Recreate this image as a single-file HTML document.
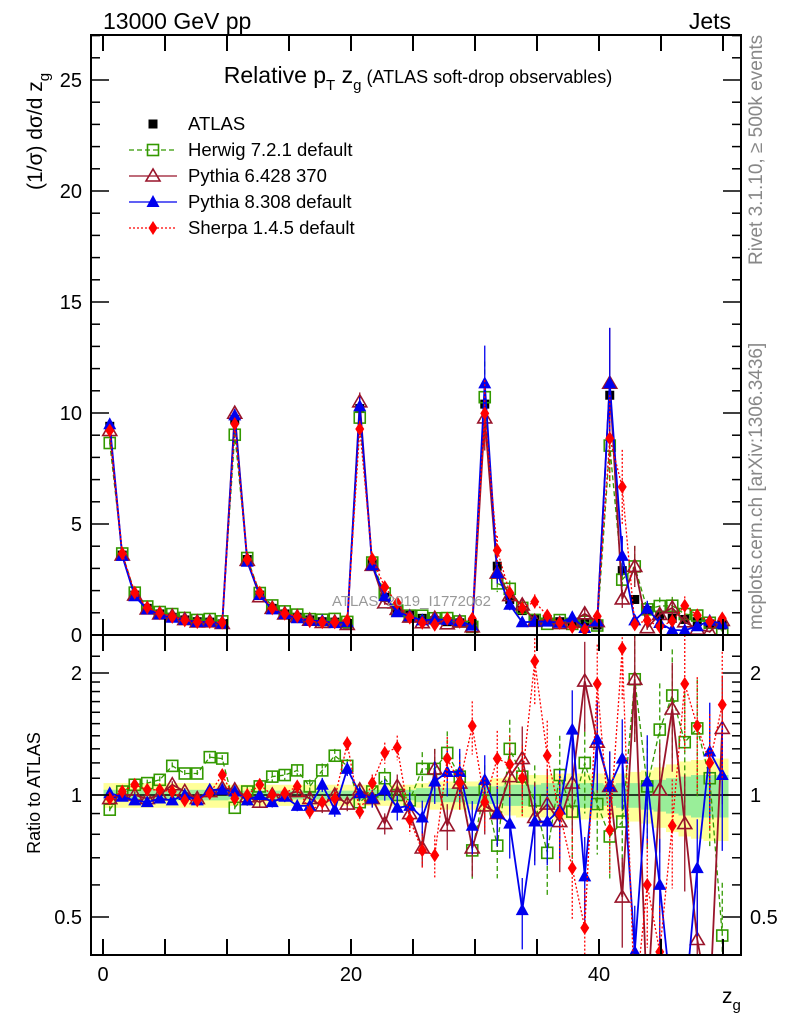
<!DOCTYPE html>
<html><head><meta charset="utf-8">
<style>
body{margin:0;background:#fff;}
svg{display:block;font-family:"Liberation Sans",sans-serif;}
</style></head>
<body>
<svg id="c" width="786" height="1024" viewBox="0 0 786 1024" xmlns="http://www.w3.org/2000/svg">
<defs>
<clipPath id="clipMain"><rect x="91" y="35" width="650" height="600"/></clipPath>
<clipPath id="clipRatio"><rect x="91" y="635" width="650" height="320"/></clipPath>
</defs>
<g id="bands" clip-path="url(#clipRatio)"></g>
<g id="ratioMarks" clip-path="url(#clipRatio)"></g>
<g id="mainMarks" clip-path="url(#clipMain)"></g>
<g id="axes"></g>
<text x="103" y="29" font-size="23">13000 GeV pp</text>
<text x="731" y="29" font-size="23" text-anchor="end">Jets</text>
<text x="418" y="83" font-size="23" text-anchor="middle">Relative p<tspan font-size="15" dy="7">T</tspan><tspan dy="-7"> z</tspan><tspan font-size="15" dy="7">g</tspan><tspan dy="-7" font-size="18"> (ATLAS soft-drop observables)</tspan></text>
<text transform="translate(42,190) rotate(-90)" font-size="21" text-anchor="start">(1/σ) dσ/d z<tspan font-size="15" dy="7">g</tspan></text>
<text transform="translate(40,793) rotate(-90)" font-size="18" text-anchor="middle">Ratio to ATLAS</text>
<text x="722" y="1003" font-size="21">z<tspan font-size="15" dy="7">g</tspan></text>
<text transform="translate(762,265) rotate(-90)" font-size="19" fill="#888">Rivet 3.1.10, ≥ 500k events</text>
<text transform="translate(762,630) rotate(-90)" font-size="19" fill="#888">mcplots.cern.ch [arXiv:1306.3436]</text>
<text x="332" y="606" font-size="15" fill="#999">ATLAS_2019_I1772062</text>
<g id="legend"></g>
</svg>
<script>
// ---- data ----
const binCenters = [0.5,1.5,2.5,3.5,4.5,5.5,6.5,7.5,8.5,9.5,10.5,11.5,12.5,13.5,14.5,15.5,16.5,17.5,18.5,19.5,20.5,21.5,22.5,23.5,24.5,25.5,26.5,27.5,28.5,29.5,30.5,31.5,32.5,33.5,34.5,35.5,36.5,37.5,38.5,39.5,40.5,41.5,42.5,43.5,44.5,45.5,46.5,47.5,48.5,49.5];
const atlasValues = [9.4,3.6,1.8,1.2,0.95,0.8,0.68,0.6,0.58,0.5, 9.7,3.4,1.8,1.2,0.95,0.8,0.68,0.6,0.58,0.5, 10.2,3.2,1.7,1.1,0.9,0.75,0.65,0.6,0.55,0.5, 10.4,3.1,1.6,1.1,0.7,0.7,0.6,0.55,0.5,0.45, 10.8,2.9,1.6,1.1,0.9,0.75,0.7,0.6,0.5,0.45];
const atlasTotErr = [0.07,0.07,0.07,0.07,0.07,0.07,0.07,0.07,0.07,0.07, 0.06,0.06,0.06,0.06,0.06,0.06,0.06,0.06,0.06,0.06, 0.06,0.06,0.06,0.06,0.06,0.07,0.08,0.08,0.08,0.08, 0.09,0.10,0.11,0.12,0.12,0.12,0.13,0.13,0.13,0.13, 0.12,0.13,0.14,0.15,0.17,0.19,0.21,0.22,0.23,0.23];
const atlasStatErr = [0.03,0.03,0.03,0.03,0.03,0.03,0.03,0.03,0.03,0.03, 0.025,0.025,0.025,0.025,0.025,0.025,0.025,0.025,0.025,0.025, 0.025,0.03,0.03,0.03,0.03,0.04,0.04,0.04,0.04,0.05, 0.05,0.05,0.06,0.06,0.06,0.07,0.07,0.07,0.07,0.07, 0.06,0.07,0.07,0.08,0.09,0.10,0.11,0.12,0.12,0.12];
const mcRelErr = [0.02,0.02,0.02,0.02,0.02,0.02,0.02,0.02,0.02,0.02, 0.02,0.03,0.03,0.03,0.03,0.03,0.04,0.04,0.04,0.04, 0.04,0.05,0.06,0.07,0.08,0.1,0.12,0.13,0.14,0.15, 0.15,0.17,0.18,0.2,0.22,0.22,0.25,0.25,0.25,0.25, 0.22,0.25,0.3,0.3,0.3,0.3,0.32,0.32,0.32,0.35];
const herwigRatio = [0.92,1.02,1.06,1.07,1.09,1.18,1.13,1.13,1.24,1.23, 0.93,1.02,1.05,1.11,1.12,1.15,1.05,1.15,1.25,1.18, 0.96,1.02,1.1,1.0,0.97,1.16,1.16,1.27,1.11,0.73, 1.03,0.75,1.3,1.11,0.97,0.72,1.12,0.91,1.2,0.95, 0.79,0.86,1.93,1.05,1.45,1.76,1.35,1.46,1.1,0.45];
const pythia6Ratio = [0.98,1.0,1.0,0.98,1.0,1.06,1.02,0.98,1.02,1.04, 1.03,0.99,0.96,1.0,1.0,1.02,0.98,0.94,1.0,0.95, 1.03,0.98,0.85,1.05,0.9,0.74,1.16,0.84,1.07,0.74, 0.94,0.9,1.11,1.23,0.88,0.95,0.86,1.07,1.91,1.35, 1.05,0.56,1.93,0.3,1.03,1.63,0.85,0.44,0.3,1.46];
const pythia8Ratio = [1.01,0.99,0.97,0.96,0.98,0.97,1.0,0.97,1.03,1.03, 1.02,0.97,1.0,0.96,0.99,0.94,0.94,1.06,0.92,1.16, 1.01,0.98,1.03,0.93,0.94,0.88,1.08,1.14,1.14,0.84, 1.09,0.9,0.85,0.52,0.86,0.86,0.92,1.45,0.63,1.37, 1.05,1.23,0.41,1.08,0.6,0.3,0.3,0.66,1.28,1.12];
const sherpaRatio = [0.98,1.02,1.06,1.03,1.03,1.02,0.97,0.97,1.01,1.12, 0.98,1.0,1.06,1.0,1.01,1.05,0.91,0.96,0.98,1.34, 0.91,1.07,1.27,1.31,0.87,0.73,0.71,1.23,1.07,1.48, 0.96,1.23,1.19,1.1,2.14,1.25,0.9,0.66,0.47,1.88, 0.82,2.3,0.3,0.6,0.41,0.84,1.88,1.48,1.2,1.67];
const xTicks = [0,5,10,15,20,25,30,35,40,45,50];
const xTickLabels = [0,20,40];
const yTickLabels = [0,5,10,15,20,25];
const ratioTickLabels = [0.5,1,2];

// ---- axes ----
const X0=91,X1=741,YT=35,YM=635,YB=955;
const sx = v => 103 + v*12.4;
const sxp = v => 103.5 + v*12.5;
const sy = v => YM - v*22.2;
const sr = r => 795 - 122*Math.log2(Math.max(r,0.05));
const NS="http://www.w3.org/2000/svg";
function mk(tag, attrs, parent){const e=document.createElementNS(NS,tag);for(const k in attrs)e.setAttribute(k,attrs[k]);parent.appendChild(e);return e;}
const axes=document.getElementById('axes');

let f1=mk('rect',{x:X0,y:YT,width:X1-X0,height:YM-YT,fill:'none',stroke:'#000','stroke-width':2},axes);


let f2=mk('rect',{x:X0,y:YM,width:X1-X0,height:YB-YM,fill:'none',stroke:'#000','stroke-width':2},axes);



xTicks.forEach(t=>{
  const x=sx(t);
  [[YT,YT+16],[YM,YM-16],[YM,YM+16],[YB,YB-16]].forEach(([a,b])=>{
    const l=mk('line',{x1:x,x2:x,y1:a,y2:b,stroke:'#000','stroke-width':2},axes);
    
    
  });
});
xTickLabels.forEach(t=>{
  const tx=mk('text',{x:sx(t),y:981,'font-size':20,'text-anchor':'middle'},axes);
  tx.textContent=t;
  
  
});
for(let v=0;v<=27;v++){
  const y=sy(v); const len=(v%5===0)?18:9;
  const l=mk('line',{x1:X0,x2:X0+len,y1:y,y2:y,stroke:'#000','stroke-width':1.5},axes);
  
  
  const r=mk('line',{x1:X1,x2:X1-len,y1:y,y2:y,stroke:'#000','stroke-width':1.5},axes);
  
  
}
yTickLabels.forEach(v=>{
  const tx=mk('text',{x:82,y:sy(v)+7,'font-size':20,'text-anchor':'end'},axes);
  tx.textContent=v;
  
  
});
[0.4,0.5,0.6,0.7,0.8,0.9,1,1.1,1.2,1.3,1.4,1.5,1.6,1.7,1.8,1.9,2,2.2].forEach(r=>{
  const y=sr(r); if(y<YM||y>YB) return;
  const len=ratioTickLabels.includes(r)?18:9;
  const l=mk('line',{x1:X0,x2:X0+len,y1:y,y2:y,stroke:'#000','stroke-width':1.5},axes);
  
  
  const l2=mk('line',{x1:X1,x2:X1-len,y1:y,y2:y,stroke:'#000','stroke-width':1.5},axes);
  
  
});
ratioTickLabels.forEach(r=>{
  const a=mk('text',{x:82,y:sr(r)+7,'font-size':20,'text-anchor':'end'},axes);
  a.textContent=r;
  
  
  const b=mk('text',{x:750,y:sr(r)+7,'font-size':20},axes);
  b.textContent=r;
  
  
});

const bands=document.getElementById('bands');
binCenters.forEach((c,i)=>{
  const x0=sxp(c-0.5),w=12.5;
  const yb=mk('rect',{x:x0,y:sr(1+atlasTotErr[i]),width:w,height:sr(1-atlasTotErr[i])-sr(1+atlasTotErr[i]),fill:'#ffff99'},bands);
  
  
  const gb=mk('rect',{x:x0,y:sr(1+atlasStatErr[i]),width:w,height:sr(1-atlasStatErr[i])-sr(1+atlasStatErr[i]),fill:'#99ee99'},bands);
  
  
});
let one=mk('line',{x1:X0,x2:X1,y1:sr(1),y2:sr(1),stroke:'#000','stroke-width':1.5},bands);



function marker(g,type,x,y,color){
  let e;
  if(type==='sq') e=mk('rect',{x:x-4.5,y:y-4.5,width:9,height:9,fill:'#000'},g);
  else if(type==='osq') e=mk('rect',{x:x-5.5,y:y-5.5,width:11,height:11,fill:'none',stroke:color,'stroke-width':1.6},g);
  else if(type==='otri') e=mk('polygon',{points:`${x},${y-7} ${x-7},${y+5} ${x+7},${y+5}`,fill:'none',stroke:color,'stroke-width':1.6},g);
  else if(type==='tri') e=mk('polygon',{points:`${x},${y-7} ${x-6.5},${y+5} ${x+6.5},${y+5}`,fill:color},g);
  else e=mk('polygon',{points:`${x},${y-7} ${x-4.5},${y} ${x},${y+7} ${x+4.5},${y}`,fill:color},g);
  return e;
}
const series=[
  {name:'herwig',ratio:herwigRatio,color:'#339900',dash:'5,3',m:'osq',w:1.3},
  {name:'pythia6',ratio:pythia6Ratio,color:'#99142a',dash:'',m:'otri',w:1.8},
  {name:'pythia8',ratio:pythia8Ratio,color:'#0000ee',dash:'',m:'tri',w:1.8},
  {name:'sherpa',ratio:sherpaRatio,color:'#ff0000',dash:'2,2',m:'dia',w:1.3}
];
const main=document.getElementById('mainMarks');
const rat=document.getElementById('ratioMarks');
series.forEach(s=>{
  const gm=mk('g',{},main);
  
  
  const vals=atlasValues.map((v,i)=>v*s.ratio[i]);
  const pm=mk('polyline',{points:binCenters.map((c,i)=>sxp(c)+','+sy(vals[i])).join(' '),fill:'none',stroke:s.color,'stroke-width':s.w,'stroke-dasharray':s.dash},gm);
  
  
  binCenters.forEach((c,i)=>{
    const e=vals[i]*mcRelErr[i];
    const eb=mk('line',{x1:sxp(c),x2:sxp(c),y1:sy(vals[i]+e),y2:sy(vals[i]-e),stroke:s.color,'stroke-width':1.3,'stroke-dasharray':s.dash},gm);
    
    
    const mm=marker(gm,s.m,sxp(c),sy(vals[i]),s.color);
    
    
  });
  const gr=mk('g',{},rat);
  
  
  const pr=mk('polyline',{points:binCenters.map((c,i)=>sxp(c)+','+sr(s.ratio[i])).join(' '),fill:'none',stroke:s.color,'stroke-width':s.w,'stroke-dasharray':s.dash},gr);
  
  
  binCenters.forEach((c,i)=>{
    const r=s.ratio[i], e=r*mcRelErr[i];
    const eb=mk('line',{x1:sxp(c),x2:sxp(c),y1:sr(r+e),y2:sr(Math.max(r-e,0.05)),stroke:s.color,'stroke-width':1.3,'stroke-dasharray':s.dash},gr);
    
    
    const mm=marker(gr,s.m,sxp(c),sr(r),s.color);
    
    
  });
});
const gd=mk('g',{},main);


main.insertBefore(gd,main.firstChild);
binCenters.forEach((c,i)=>{
  const m=marker(gd,'sq',sxp(c),sy(atlasValues[i]),'#000');
  
  
});

const leg=document.getElementById('legend');
const legItems=[
  {label:'ATLAS',m:'sq',color:'#000',dash:null},
  {label:'Herwig 7.2.1 default',m:'osq',color:'#339900',dash:'5,3'},
  {label:'Pythia 6.428 370',m:'otri',color:'#99142a',dash:''},
  {label:'Pythia 8.308 default',m:'tri',color:'#0000ee',dash:''},
  {label:'Sherpa 1.4.5 default',m:'dia',color:'#ff0000',dash:'2,2'}
];
legItems.forEach((it,k)=>{
  const y=124+26*k;
  const g=mk('g',{},leg);
  
  
  if(it.dash!==null) mk('line',{x1:129,x2:177,y1:y,y2:y,stroke:it.color,'stroke-width':1.3,'stroke-dasharray':it.dash},g);
  marker(g,it.m,153,y,it.color);
  const t=mk('text',{x:188,y:y+6,'font-size':18.5},g);
  t.textContent=it.label;
});
</script>
</body></html>
